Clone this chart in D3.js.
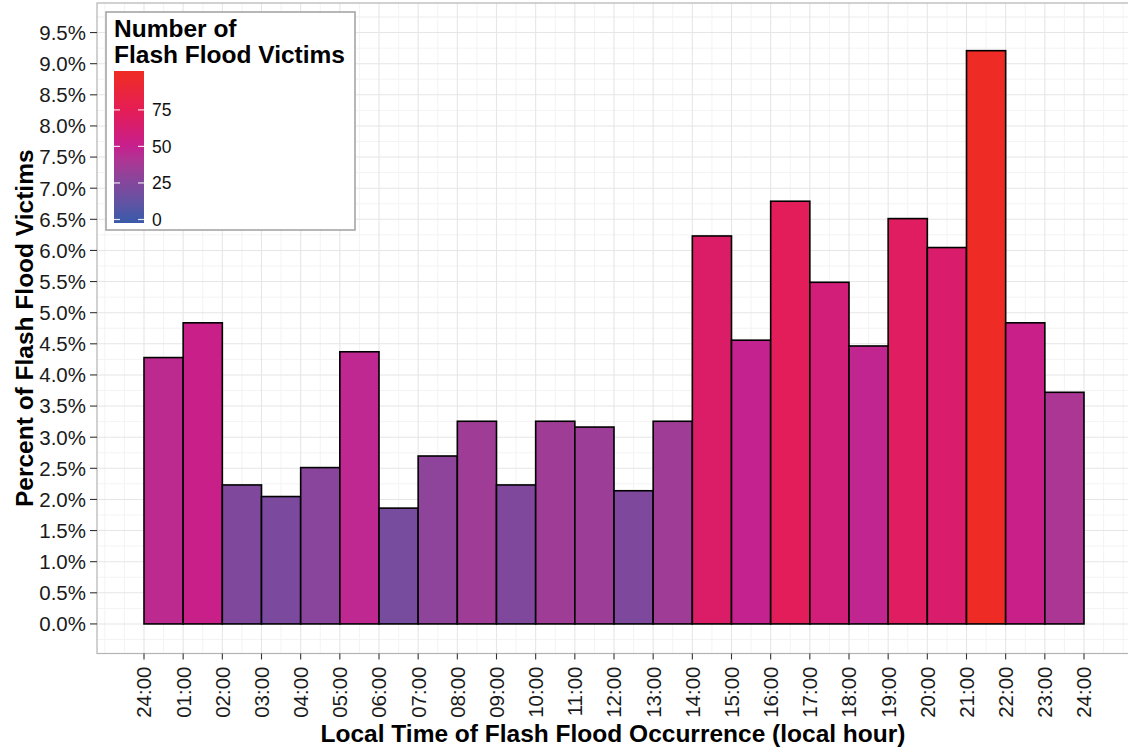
<!DOCTYPE html>
<html><head><meta charset="utf-8">
<script src="https://cdn.jsdelivr.net/npm/d3@7"></script>
<style>
body{margin:0;background:#fff;}
svg{display:block;font-family:"Liberation Sans",Arial,sans-serif;}
</style></head>
<body>
<svg id="chart" width="1128" height="749"></svg>
<script>
// ---- data ----
const hours = d3.range(0, 24);               // bar start hour
const hourLabels = ["24:00","01:00","02:00","03:00","04:00","05:00","06:00","07:00","08:00","09:00","10:00","11:00","12:00","13:00","14:00","15:00","16:00","17:00","18:00","19:00","20:00","21:00","22:00","23:00","24:00"];
const victims = [46,52,24,22,27,47,20,29,35,24,35,34,23,35,67,49,73,59,48,70,65,99,52,40];
const yTicks = d3.range(0, 20).map(i => i * 0.5);   // 0.0% .. 9.5%
const legendTicks = [0, 25, 50, 75];
const colorStops = [0, 25, 50, 75, 99];
const colorValues = ["#3b5aa9", "#82479c", "#c61f8e", "#e41d55", "#ee2b24"];

const total = d3.sum(victims);
const pct = victims.map(v => v / total * 100);

const svg = d3.select("#chart");
const x = d3.scaleLinear().domain([-1.2, 25.2]).range([97, 1131]);
const y = d3.scaleLinear().domain([-0.475, 9.975]).range([653.5, 3]);
const color = d3.scaleLinear().domain(colorStops).range(colorValues).interpolate(d3.interpolateLab);

const panel = {l: 97, t: 3, r: 1131, b: 653.5};

// grid
const g = svg.append("g");
const minorX = d3.range(-1, 25.01, 0.5).filter(v => !(Number.isInteger(v) && v >= 0 && v <= 24));
const minorY = d3.range(-0.25, 9.9, 0.5).concat([9.75]);
g.selectAll(".mx").data(minorX).join("line")
  .attr("x1", d => x(d)).attr("x2", d => x(d)).attr("y1", panel.t).attr("y2", panel.b)
  .attr("stroke", "#f3f3f3").attr("stroke-width", 1);
g.selectAll(".my").data(minorY).join("line")
  .attr("x1", panel.l).attr("x2", panel.r).attr("y1", d => y(d)).attr("y2", d => y(d))
  .attr("stroke", "#f3f3f3").attr("stroke-width", 1);
g.selectAll(".Mx").data(d3.range(0, 25)).join("line")
  .attr("x1", d => x(d)).attr("x2", d => x(d)).attr("y1", panel.t).attr("y2", panel.b)
  .attr("stroke", "#e6e6e6").attr("stroke-width", 1.1);
g.selectAll(".My").data(yTicks).join("line")
  .attr("x1", panel.l).attr("x2", panel.r).attr("y1", d => y(d)).attr("y2", d => y(d))
  .attr("stroke", "#e6e6e6").attr("stroke-width", 1.1);

// bars
svg.append("g").selectAll("rect").data(hours).join("rect")
  .attr("x", d => x(d)).attr("width", d => x(d + 1) - x(d))
  .attr("y", (d, i) => y(pct[i])).attr("height", (d, i) => y(0) - y(pct[i]))
  .attr("fill", (d, i) => color(victims[i]))
  .attr("stroke", "#000").attr("stroke-width", 1.6);

// panel border
svg.append("rect").attr("x", panel.l).attr("y", panel.t)
  .attr("width", panel.r - panel.l).attr("height", panel.b - panel.t)
  .attr("fill", "none").attr("stroke", "#b3b3b3").attr("stroke-width", 1.2);

// y axis
const ya = svg.append("g");
ya.selectAll("line").data(yTicks).join("line")
  .attr("x1", 90).attr("x2", panel.l).attr("y1", d => y(d)).attr("y2", d => y(d))
  .attr("stroke", "#333").attr("stroke-width", 1.1);
ya.selectAll("text").data(yTicks).join("text")
  .attr("x", 86).attr("y", d => y(d)).attr("dy", "0.36em")
  .attr("text-anchor", "end").attr("font-size", 20.5).attr("fill", "#1a1a1a")
  .text(d => d.toFixed(1) + "%");

// x axis
const xa = svg.append("g");
const xt = d3.range(0, 25);
xa.selectAll("line").data(xt).join("line")
  .attr("x1", d => x(d)).attr("x2", d => x(d)).attr("y1", panel.b).attr("y2", panel.b + 6)
  .attr("stroke", "#333").attr("stroke-width", 1.1);
xa.selectAll("text").data(xt).join("text")
  .attr("transform", d => `translate(${x(d)},${panel.b + 13}) rotate(-90)`)
  .attr("dy", "0.36em").attr("text-anchor", "end")
  .attr("font-size", 20.5).attr("fill", "#1a1a1a")
  .text((d, i) => hourLabels[i]);

// axis titles
svg.append("text").attr("x", 613).attr("y", 742).attr("text-anchor", "middle")
  .attr("font-size", 24.5).attr("font-weight", "bold").attr("fill", "#000")
  .text("Local Time of Flash Flood Occurrence (local hour)");
svg.append("text").attr("transform", `translate(33,${(panel.t + panel.b) / 2}) rotate(-90)`)
  .attr("text-anchor", "middle")
  .attr("font-size", 24.5).attr("font-weight", "bold").attr("fill", "#000")
  .text("Percent of Flash Flood Victims");

// legend
const lg = svg.append("g");
lg.append("rect").attr("x", 106).attr("y", 12).attr("width", 249).attr("height", 218)
  .attr("fill", "#fff").attr("stroke", "#a6a6a6").attr("stroke-width", 1.6);
lg.append("text").attr("x", 114).attr("y", 37).attr("font-size", 24.5).attr("font-weight", "bold")
  .text("Number of");
lg.append("text").attr("x", 114).attr("y", 63).attr("font-size", 24.5).attr("font-weight", "bold")
  .text("Flash Flood Victims");
const ly = d3.scaleLinear().domain([0, 99]).range([219.5, 71 + 3.8]);
const defs = svg.append("defs");
const grad = defs.append("linearGradient").attr("id", "cb").attr("x1", 0).attr("x2", 0).attr("y1", 1).attr("y2", 0);
const barTop = 71, barBot = 223;
d3.range(0, 21).forEach(i => {
  const py = barBot - (barBot - barTop) * i / 20;
  const v = Math.max(0, Math.min(99, ly.invert(py)));
  grad.append("stop").attr("offset", (i / 20 * 100) + "%").attr("stop-color", color(v));
});
lg.append("rect").attr("x", 114).attr("y", barTop).attr("width", 30).attr("height", barBot - barTop)
  .attr("fill", "url(#cb)");
legendTicks.forEach(t => {
  lg.append("line").attr("x1", 114).attr("x2", 120).attr("y1", ly(t)).attr("y2", ly(t))
    .attr("stroke", "#fff").attr("stroke-width", 1.2).attr("opacity", 0.85);
  lg.append("line").attr("x1", 138).attr("x2", 144).attr("y1", ly(t)).attr("y2", ly(t))
    .attr("stroke", "#fff").attr("stroke-width", 1.2).attr("opacity", 0.85);
  lg.append("text").attr("x", 152).attr("y", ly(t)).attr("dy", "0.36em")
    .attr("font-size", 17.5).attr("fill", "#111").text(t);
});
</script>
</body></html>
